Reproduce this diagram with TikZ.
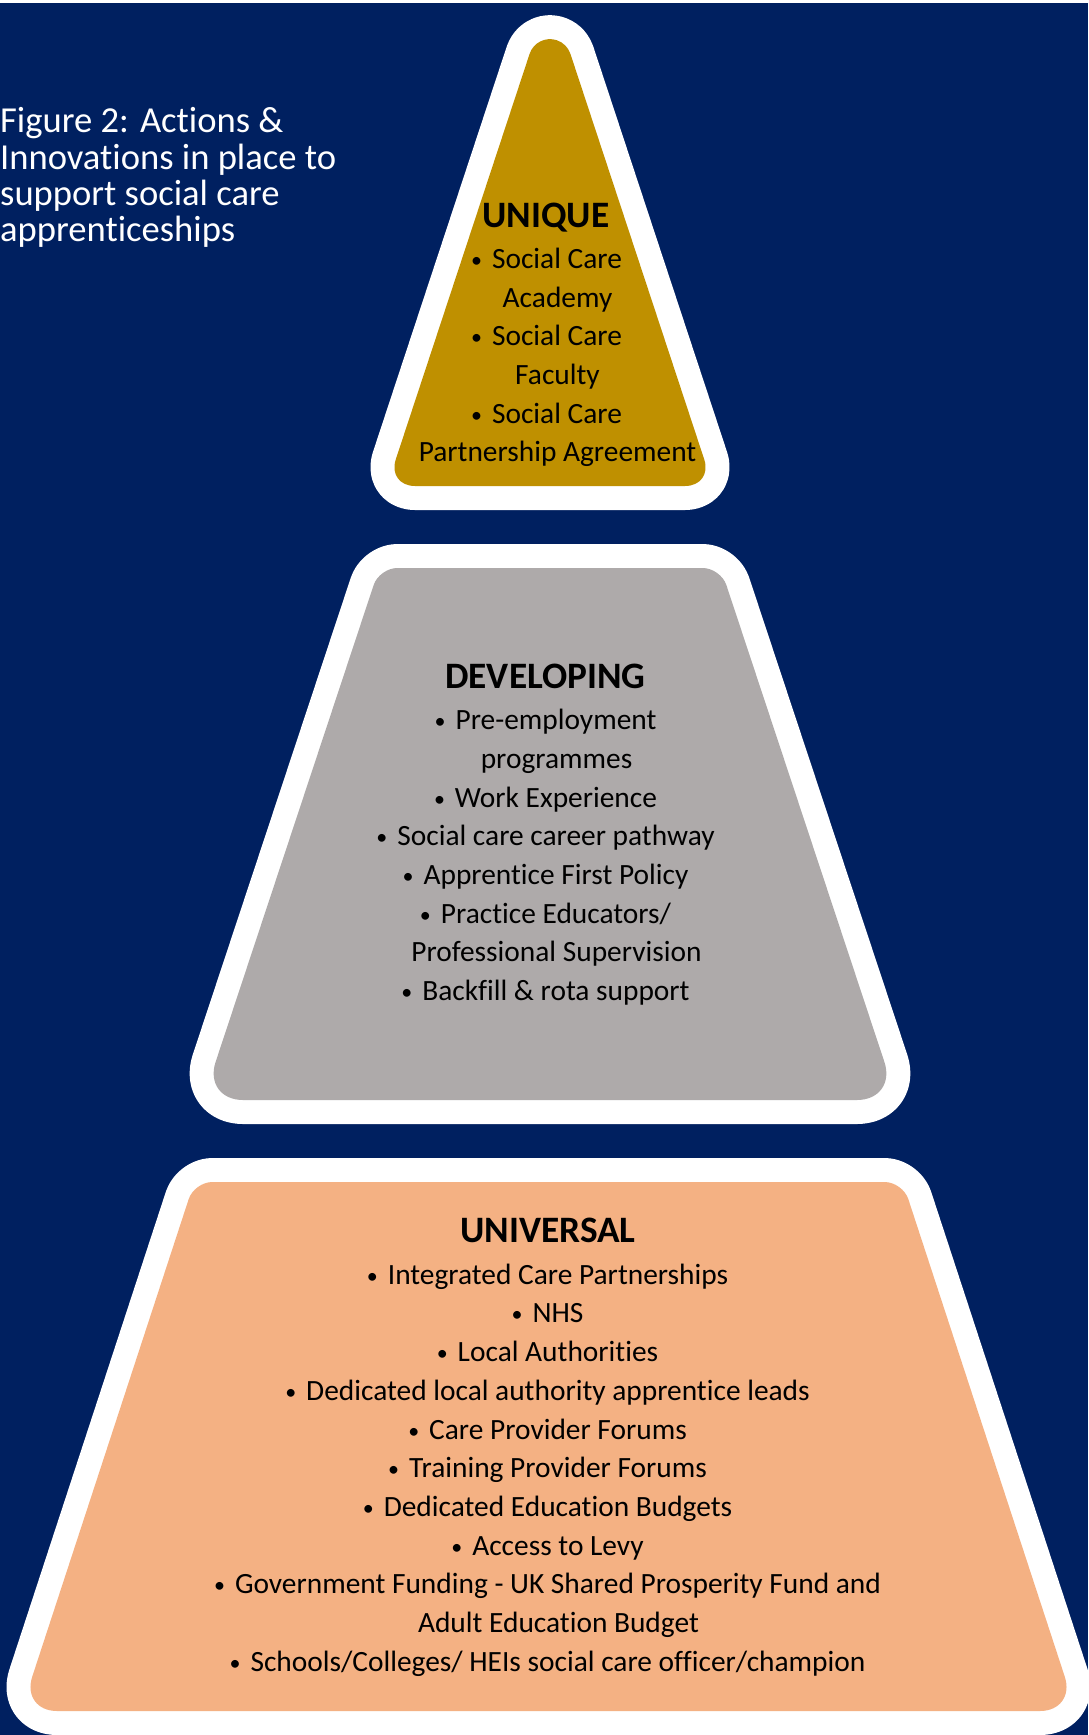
\documentclass[tikz,border=0pt]{standalone}
\usepackage{fontspec}
\setmainfont{Carlito}[Ligatures=NoCommon]
\usepackage{tikz}

\definecolor{navy}{HTML}{002060}
\definecolor{uniquegold}{HTML}{BF9000}
\definecolor{devgray}{HTML}{AEAAAA}
\definecolor{univpeach}{HTML}{F4B183}

\newcommand{\bul}{\raisebox{1pt}{\fontsize{22}{22}\selectfont•}\hspace{10pt}}
\newcommand{\cont}[1]{\hspace*{22pt}#1}

\begin{document}
\begin{tikzpicture}[x=1pt,y=-1pt,
  tier/.style={preaction={draw=white,line width=48pt,line join=round}},
  head/.style={anchor=base,inner sep=0pt,font=\fontsize{37.3}{40}\selectfont\bfseries},
  item/.style={anchor=base,inner sep=0pt,font=\fontsize{29.4}{38.7}\selectfont},
  caption/.style={anchor=base west,align=left,inner sep=0pt,text=white,font=\fontsize{36.6}{36.3}\selectfont}]
\useasboundingbox (0,0) rectangle (1088,1735);
\clip (0,0) rectangle (1088,1735);
\fill [white] (0,0) rectangle (1088,3);
\fill [navy] (0,3) rectangle (1088,1735);

\node [caption] (title) at (0,241.6) {Figure 2: Actions \&\\Innovations in place to\\support social care\\apprenticeships};

\path [tier,fill=uniquegold] (550,486) [rounded corners=28pt] -- (387,486) [sharp corners] -- (529.59,53.87)
  arc [start angle=198.3,end angle=341.7,radius=21.5] [rounded corners=28pt] -- (713,486) -- cycle;
\path [tier,fill=devgray] (550,1100) [rounded corners=40pt] -- (203,1100) [rounded corners=18pt] -- (379.3,568)
  -- (720.7,568) [rounded corners=40pt] -- (897,1100) -- cycle;
\path [tier,fill=univpeach] (548.5,1711) [rounded corners=36pt] -- (21,1711) [rounded corners=18pt] -- (194.3,1182)
  -- (902.7,1182) [rounded corners=36pt] -- (1076,1711) -- cycle;

\node [head] (unique) at (546,227.7) {UNIQUE};
\foreach \txt [count=\i from 0] in {{\bul Social Care},{\cont{Academy}},{\bul Social Care},{\cont{Faculty}},{\bul Social Care},{\cont{Partnership Agreement}}}
  \node [item] (unique\i) at (546.5,268.3+38.7*\i) {\txt};

\node [head] (developing) at (545.5,688) {DEVELOPING};
\foreach \txt [count=\i from 0] in {{\bul Pre-employment},{\cont{programmes}},{\bul Work Experience},{\bul Social care career pathway},{\bul Apprentice First Policy},{\bul Practice Educators/},{\cont{Professional Supervision}},{\bul Backfill \& rota support}}
  \node [item] (developing\i) at (545.5,729.6+38.7*\i) {\txt};

\node [head] (universal) at (548,1242.5) {UNIVERSAL};
\foreach \txt [count=\i from 0] in {{\bul Integrated Care Partnerships},{\bul NHS},{\bul Local Authorities},{\bul Dedicated local authority apprentice leads},{\bul Care Provider Forums},{\bul Training Provider Forums},{\bul Dedicated Education Budgets},{\bul Access to Levy},{\bul Government Funding - UK Shared Prosperity Fund and},{\cont{Adult Education Budget}},{\bul Schools/Colleges/ HEIs social care officer/champion}}
  \node [item] (universal\i) at (547.5,1284.2+38.7*\i) {\txt};
\end{tikzpicture}
\end{document}
